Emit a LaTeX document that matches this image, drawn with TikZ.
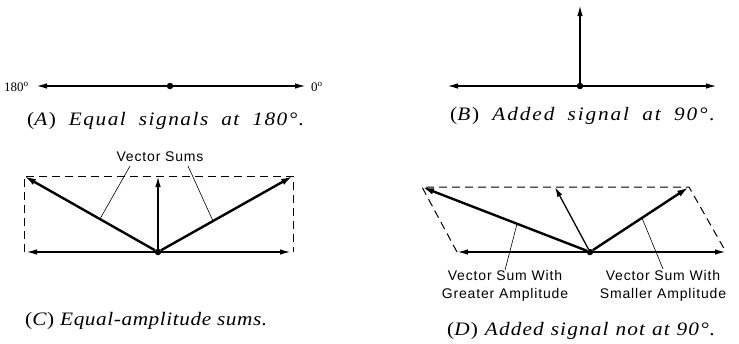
\documentclass[tikz,border=0pt]{standalone}
\usepackage{fontspec}
\setmainfont{Liberation Serif}
\newfontfamily\capfont{Liberation Serif}[FakeStretch=1.12]
\newfontfamily\lblfont{Liberation Sans}[LetterSpace=6]
\usetikzlibrary{arrows.meta}
\tikzset{
  vec/.style={line width=1.7pt, -{Latex[length=11pt,width=5.5pt]}},
  thinvec/.style={line width=1.3pt, -{Latex[length=10pt,width=5.5pt]}},
  sumvec/.style={line width=2.4pt, -{Latex[length=12pt,width=6.5pt]}},
  dashline/.style={line width=1pt, dash pattern=on 8pt off 5pt},
  leader/.style={line width=0.6pt},
  dot/.style={circle, fill, inner sep=0pt, minimum size=6.5pt},
  captxt/.style={font=\capfont\fontsize{19}{22}\selectfont, anchor=base west, inner sep=0pt},
  lbl/.style={font=\lblfont\fontsize{14}{18}\selectfont, inner sep=0pt, align=center},
  deglbl/.style={font=\fontsize{13}{15}\selectfont, inner sep=0pt}
}
\begin{document}
\begin{tikzpicture}[x=1pt,y=-1pt]
\useasboundingbox (0,0) rectangle (739,343);
% ---------- (A)
\node[dot] (Ao) at (170,86) {};
\coordinate (Al) at (36,86);
\coordinate (Ar) at (306,86);
\draw[vec] (Ao) -- (Al);
\draw[vec] (Ao) -- (Ar);
\node[deglbl, anchor=base east] (A180) at (29,91) {180\textsuperscript{o}};
\node[deglbl, anchor=base west] (A0) at (311,91) {0\textsuperscript{o}};
\node[captxt] (Acap) at (27,125) {\addfontfeature{LetterSpace=8}\spaceskip=13pt (\textit{A})\ \textit{Equal signals at 180°.}};
% ---------- (B)
\node[dot] (Bo) at (580,86) {};
\coordinate (Bl) at (447,86);
\coordinate (Br) at (717,86);
\coordinate (Bt) at (580,5);
\draw[vec] (Bo) -- (Bl);
\draw[vec] (Bo) -- (Br);
\draw[vec] (Bo) -- (Bt);
\node[captxt] (Bcap) at (450,120) {\addfontfeature{LetterSpace=10}\spaceskip=13.2pt (\textit{B})\ \textit{Added signal at 90°.}};
% ---------- (C)
\node[dot] (Co) at (158,252) {};
\coordinate (Ctl) at (24,176);
\coordinate (Ctr) at (293,176);
\coordinate (Cbl) at (24,252);
\coordinate (Cbr) at (293,252);
\coordinate (Ct) at (158,176);
\coordinate (Cl) at (26,252);
\coordinate (Cr) at (291,252);
\draw[dashline] (Cbl) -- (Ctl) -- (Ctr) -- (Cbr);
\draw[vec] (Co) -- (Cl);
\draw[vec] (Co) -- (Cr);
\draw[vec] (Co) -- (Ct);
\draw[sumvec] (Co) -- (Ctl);
\draw[sumvec] (Co) -- (Ctr);
\node[lbl] (Csum) at (160,157) {Vector Sums};
\coordinate (CLa) at (130,166);
\coordinate (CLb) at (100,219);
\coordinate (CRa) at (188,166);
\coordinate (CRb) at (213,221);
\draw[leader] (CLa) -- (CLb);
\draw[leader] (CRa) -- (CRb);
\node[captxt] (Ccap) at (25,325) {\addfontfeature{LetterSpace=3}(\textit{C})\ \textit{Equal-amplitude sums.}};
% ---------- (D)
\node[dot] (Do) at (590,252) {};
\coordinate (Dtl) at (422,187);
\coordinate (Dtr) at (689,187);
\coordinate (Dt) at (555,187);
\coordinate (Dbl) at (457,252);
\coordinate (Dbr) at (726,252);
\draw[dashline] (Dbl) -- (Dtl) -- (Dtr) -- (Dbr);
\draw[vec] (Do) -- (Dbl);
\draw[vec] (Do) -- (Dbr);
\draw[thinvec] (Do) -- (Dt);
\draw[sumvec] (Do) -- (Dtl);
\draw[sumvec] (Do) -- (Dtr);
\node[lbl] (DgL) at (505,286) {Vector Sum With\\Greater Amplitude};
\node[lbl] (DsL) at (663,286) {Vector Sum With\\Smaller Amplitude};
\coordinate (DLa) at (517,224);
\coordinate (DLb) at (505,270);
\coordinate (DRa) at (642,218);
\coordinate (DRb) at (663,269);
\draw[leader] (DLa) -- (DLb);
\draw[leader] (DRa) -- (DRb);
\node[captxt] (Dcap) at (447,335) {\addfontfeature{LetterSpace=6}\spaceskip=7pt (\textit{D})\ \textit{Added signal not at 90°.}};
\end{tikzpicture}
\end{document}
